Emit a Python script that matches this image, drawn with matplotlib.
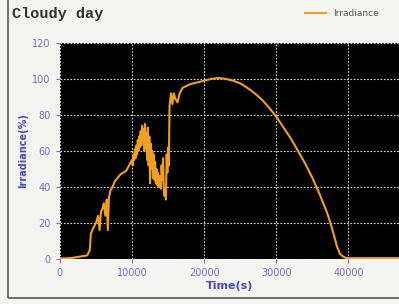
import numpy as np
import matplotlib
matplotlib.use('Agg')
import matplotlib.pyplot as plt
from matplotlib.patches import Rectangle

# Данные
time_s = [0, 1500, 2300, 3000, 3800, 4150, 4300, 4600, 5000, 5300, 5500, 5700, 5900,
          6100, 6300, 6500, 6650, 6800, 7000, 7300, 7600, 8000, 8400, 8800, 9200, 9600,
          10000, 10100, 10200, 10300, 10400, 10500, 10600, 10700, 10800, 10900,
          11000, 11100, 11200, 11300, 11400, 11500, 11600, 11700, 11800, 11900,
          12000, 12100, 12200, 12300, 12400, 12500, 12600, 12700, 12800, 12900,
          13000, 13100, 13200, 13300, 13400, 13500, 13600, 13700, 13800, 13900,
          14000, 14100, 14200, 14300, 14400, 14500, 14600, 14700, 14800, 14900,
          15000, 15100, 15200, 15400, 15600, 15800, 16000, 16300, 16600,
          17000, 17500, 18000, 19000, 20000, 21000, 22000, 23000, 24000, 25000, 26000,
          27000, 28000, 29000, 30000, 31000, 32000, 33000, 34000, 35000, 36000, 37000,
          37500, 38000, 38400, 38800, 39200, 39700, 41000, 47000]
irradiance = [0.3, 0.5, 1, 1.5, 2, 5, 14, 17, 20, 24, 16, 26, 28,
              31, 24, 33, 16, 34, 38, 40, 43, 45, 47, 48, 49, 52,
              55, 52, 58, 55, 61, 56, 63, 58, 66, 60,
              68, 62, 71, 63, 74, 66, 72, 60, 75, 62,
              70, 55, 73, 52, 68, 42, 64, 50, 60, 45,
              58, 44, 54, 42, 50, 41, 48, 40, 46, 42,
              39, 52, 44, 56, 40, 35, 38, 33, 58, 48,
              62, 52, 85, 92, 86, 92, 89, 87, 92,
              95, 96, 97, 98, 99, 100, 100.5, 100, 99, 97.5, 95,
              92, 88.5, 84, 79, 73, 67, 60, 53, 45, 36, 26,
              20, 13, 7, 3, 1.5, 0.5, 0.5, 0.5]

x_ticks = [0, 10000, 20000, 30000, 40000]
y_ticks = [0, 20, 40, 60, 80, 100, 120]

tick_col = '#7a6ac8'
label_col = '#4848b8'

fig = plt.figure(figsize=(3.99, 3.04), dpi=100)
fig.patch.set_facecolor('#f3f3ef')
ax = fig.add_axes([0.150, 0.148, 0.850, 0.711])
ax.set_facecolor('black')

ax.plot(time_s, irradiance, color='#f0a020', lw=1.5, label='Irradiance')

ax.set_xlim(0, 47000)
ax.set_ylim(0, 120)
ax.set_xticks(x_ticks)
ax.set_yticks(y_ticks)
ax.grid(True, color='#dddddd', linestyle=(0, (1.5, 1.5)), lw=0.8)
ax.tick_params(colors=tick_col, labelsize=7, length=3, width=0.8)
for s in ax.spines.values():
    s.set_visible(False)

ax.set_xlabel('Time(s)', color=label_col, fontsize=8, fontweight='bold', labelpad=2)
ax.set_ylabel('Irradiance(%)', color=label_col, fontsize=7, fontweight='bold', labelpad=3)

fig.text(0.03, 0.955, 'Cloudy day', family='Liberation Mono', fontweight='bold',
         fontsize=11, color='#333333', va='center')
fig.legend(loc='center right', bbox_to_anchor=(0.97, 0.955), frameon=False,
           fontsize=6.5, handlelength=2.3, labelcolor='#555555')

# рамка вокруг рисунка
fig.add_artist(Rectangle((0.02, 0.02), 1.0, 1.0, transform=fig.transFigure,
                         fill=False, edgecolor='#555555', lw=1.2))

fig.savefig('out.png', dpi=100, facecolor=fig.get_facecolor())
